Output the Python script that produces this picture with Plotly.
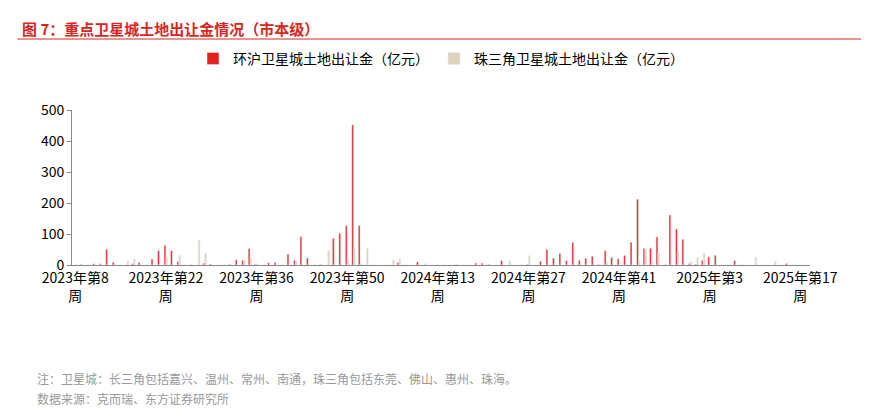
import plotly.graph_objects as go

N = 114
red_pts = {1:2,3:4,4:4,5:51,6:9,9:4,10:8,12:19,13:46,14:64,15:46,16:11,18:1,20:6,21:3,24:2,25:17,26:15,
           27:53,28:2,30:7,31:8,33:35,34:15,35:91,36:22,38:2,40:86,41:102,42:127,43:452,44:127,50:8,53:10,
           59:1,62:6,63:6,64:2,66:14,70:2,72:12,73:50,74:22,75:37,76:14,77:73,78:15,79:22,80:28,81:1,82:46,
           83:24,84:20,85:31,86:73,87:212,88:53,89:54,90:90,92:161,93:116,94:83,95:5,96:3,97:15,98:26,99:31,
           102:14,110:5}
beige_pts = {8:14,9:20,14:26,16:31,19:80,20:38,26:16,27:24,28:4,34:14,39:47,42:17,43:54,44:5,45:53,49:17,
             50:20,54:5,67:14,70:30,82:8,87:15,88:53,89:8,90:38,91:4,93:44,95:11,96:25,97:38,103:1,105:25,108:12}
x = list(range(N))
yangtze = [red_pts.get(i, 0) for i in x]
pearl = [beige_pts.get(i, 0) for i in x]
tick_pos = [0, 14, 28, 42, 56, 70, 84, 98, 112]
tick_text = ["2023年第8<br>周", "2023年第22<br>周", "2023年第36<br>周", "2023年第50<br>周", "2024年第13<br>周",
             "2024年第27<br>周", "2024年第41<br>周", "2025年第3<br>周", "2025年第17<br>周"]

font = "Noto Sans CJK SC"
fig = go.Figure()
fig.add_bar(x=x, y=yangtze, name="环沪卫星城土地出让金（亿元）", marker_color="#e3211f")
fig.add_bar(x=x, y=pearl, name="珠三角卫星城土地出让金（亿元）", marker_color="#ddd3bd")
fig.update_layout(
    width=869, height=416, barmode="group", bargap=0.45, bargroupgap=0,
    paper_bgcolor="white", plot_bgcolor="white",
    margin=dict(l=64, r=67, t=102, b=159),
    font=dict(family=font, size=14, color="#000"),
    legend=dict(orientation="h", x=0.5, xanchor="center", y=1.33, yanchor="middle",
                font=dict(size=14), itemwidth=30),
    xaxis=dict(range=[-0.5, N - 0.5], tickvals=tick_pos, ticktext=tick_text, showline=True,
               linecolor="#888", ticks="", showgrid=False, tickfont=dict(size=14)),
    yaxis=dict(range=[0, 500], dtick=100, showline=True, linecolor="#888", ticks="outside",
               ticklen=4, tickcolor="#888", showgrid=False, zeroline=False, tickfont=dict(size=14)),
    showlegend=True,
)
fig.add_annotation(text="<b>图 7：重点卫星城土地出让金情况（市本级）</b>", xref="paper", yref="paper",
                   x=-0.07, y=1.0, xanchor="left", yanchor="middle", showarrow=False,
                   font=dict(size=15, color="#d7261e"), yshift=82)
fig.add_shape(type="line", xref="paper", yref="paper", ysizemode="pixel", yanchor=1.0,
              x0=-0.074, x1=1.09, y0=71, y1=71, line=dict(color="#d7261e", width=1))
fig.add_annotation(text="注：卫星城：长三角包括嘉兴、温州、常州、南通，珠三角包括东莞、佛山、惠州、珠海。",
                   xref="paper", yref="paper", x=-0.05, y=0, xanchor="left", yanchor="middle",
                   yshift=-113, showarrow=False, font=dict(size=12, color="#999"))
fig.add_annotation(text="数据来源：克而瑞、东方证券研究所", xref="paper", yref="paper", x=-0.05, y=0,
                   xanchor="left", yanchor="middle", yshift=-133, showarrow=False,
                   font=dict(size=12, color="#999"))
fig.write_html("out.html")
